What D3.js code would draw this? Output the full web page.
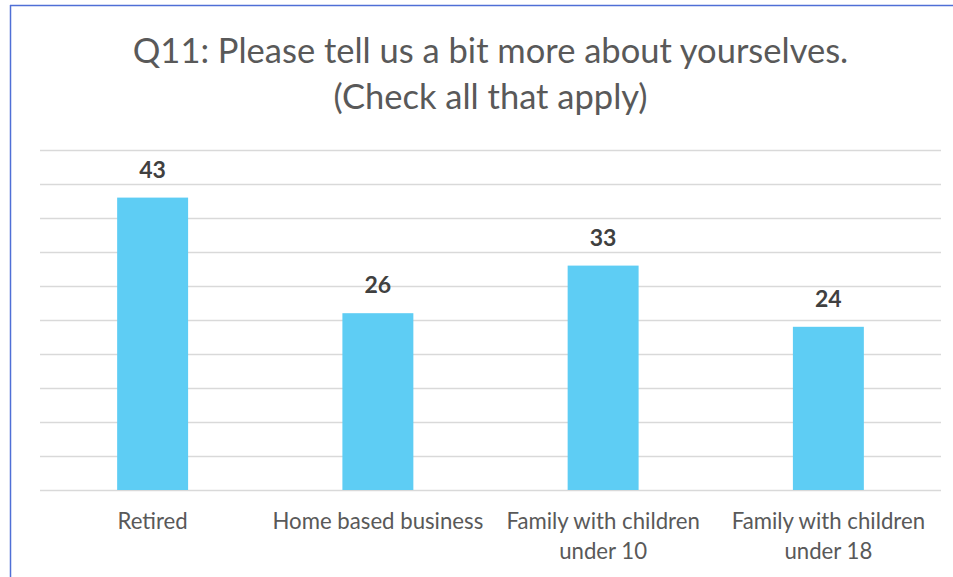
<!DOCTYPE html>
<html>
<head>
<meta charset="utf-8">
<script src="https://cdn.jsdelivr.net/npm/d3@7"></script>
<style>
  body { margin: 0; background: #fff; }
  svg { display: block; font-family: Lato, "Open Sans", sans-serif; }
</style>
</head>
<body>
<svg id="chart" width="953" height="577"></svg>
<script>
// chart data
let categories = [["Retired"], ["Home based business"], ["Family with children", "under 10"], ["Family with children", "under 18"]];
let counts = [43, 26, 33, 24];
let titleLines = ["Q11: Please tell us a bit more about yourselves.", "(Check all that apply)"];
let gridTicks = d3.range(0, 55, 5);

let width = 953, height = 577;
let margin = {left: 40, right: 12, top: 150, bottom: 87};

let svg = d3.select("#chart");

// frame lines (left & top)
svg.append("line").attr("x1", 10.5).attr("x2", 10.5).attr("y1", 5).attr("y2", height)
    .attr("stroke", "#4f6fd6").attr("stroke-width", 1.5);
svg.append("line").attr("x1", 10).attr("x2", width).attr("y1", 5.5).attr("y2", 5.5)
    .attr("stroke", "#4f6fd6").attr("stroke-width", 1.5);

let x = d3.scaleBand()
    .domain(d3.range(categories.length))
    .range([margin.left, width - margin.right])
    .padding(0);

let y = d3.scaleLinear()
    .domain([0, 50])
    .range([height - margin.bottom, margin.top]);

// gridlines
svg.append("g").selectAll("line")
    .data(gridTicks)
    .join("line")
    .attr("x1", margin.left)
    .attr("x2", width - margin.right)
    .attr("y1", d => Math.round(y(d)) + 0.5)
    .attr("y2", d => Math.round(y(d)) + 0.5)
    .attr("stroke", "#d9d9d9")
    .attr("stroke-width", 1.3);

let barW = x.bandwidth() * 0.315;

svg.append("g").selectAll("rect")
    .data(counts)
    .join("rect")
    .attr("x", (d, i) => x(i) + (x.bandwidth() - barW) / 2)
    .attr("width", barW)
    .attr("y", d => y(d))
    .attr("height", d => y(0) - y(d))
    .attr("fill", "#5ecdf4");

// value labels
svg.append("g").selectAll("text")
    .data(counts)
    .join("text")
    .attr("x", (d, i) => x(i) + x.bandwidth() / 2)
    .attr("y", d => y(d) - 20)
    .attr("text-anchor", "middle")
    .attr("font-size", 23)
    .attr("font-weight", "bold")
    .attr("fill", "#404040")
    .text(d => d);

// category labels
let catG = svg.append("g").selectAll("text")
    .data(categories)
    .join("text")
    .attr("x", (d, i) => x(i) + x.bandwidth() / 2)
    .attr("y", 529)
    .attr("text-anchor", "middle")
    .attr("font-size", 22.2)
    .attr("fill", "#595959");

catG.selectAll("tspan")
    .data(d => d)
    .join("tspan")
    .attr("x", function () { return this.parentNode.getAttribute("x"); })
    .attr("dy", (d, i) => i === 0 ? 0 : 30)
    .text(d => d);

// title
svg.append("g").selectAll("text")
    .data(titleLines)
    .join("text")
    .attr("x", (margin.left + width - margin.right) / 2)
    .attr("y", (d, i) => 63 + i * 46)
    .attr("text-anchor", "middle")
    .attr("font-size", 34.5)
    .attr("fill", "#595959")
    .text(d => d);
</script>
</body>
</html>
